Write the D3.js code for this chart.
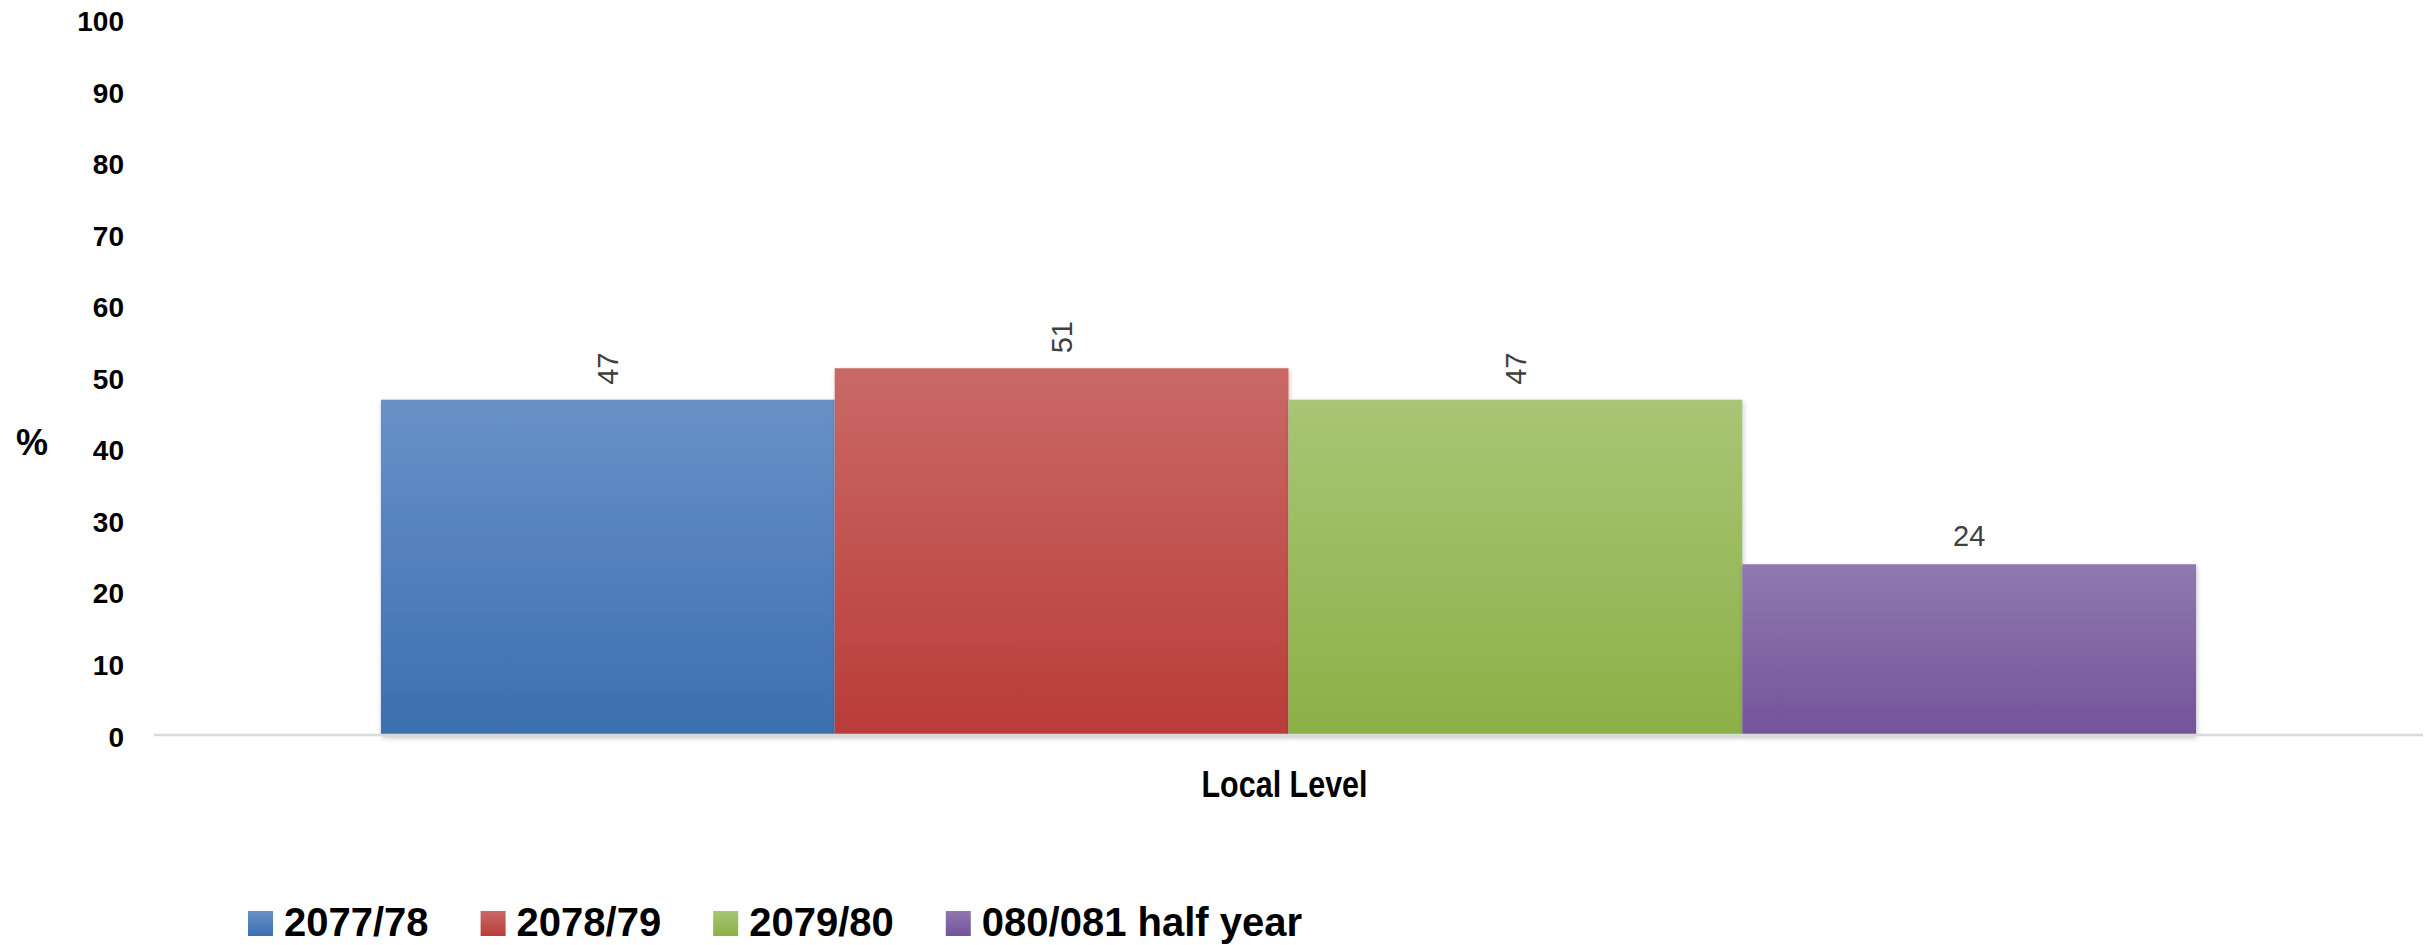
<!DOCTYPE html>
<html>
<head>
<meta charset="utf-8">
<script src="https://cdn.jsdelivr.net/npm/d3@7"></script>
<style>
  html, body { margin: 0; padding: 0; background: #fff; }
  svg { display: block; }
  text { font-family: "Liberation Sans", Arial, sans-serif; }
</style>
</head>
<body>
<script>
// ---- data ----
const categories = ["Local Level"];
const seriesNames = ["2077/78", "2078/79", "2079/80", "080/081 half year"];
const seriesValues = [47, 51.4, 47, 24];
const yTicks = [0, 10, 20, 30, 40, 50, 60, 70, 80, 90, 100];
const yAxisTitle = "%";

// ---- styles ----
const gradTop = ["#6891c7", "#c96966", "#a9c575", "#8f79af"];
const gradBottom = ["#3c6eb0", "#ba3c39", "#8cb047", "#73539a"];

const W = 2430, H = 945;
const svg = d3.select("body").append("svg").attr("width", W).attr("height", H);

const defs = svg.append("defs");
seriesNames.forEach((s, i) => {
  const g = defs.append("linearGradient").attr("id", "g" + i)
    .attr("x1", 0).attr("y1", 0).attr("x2", 0).attr("y2", 1);
  g.append("stop").attr("offset", "0%").attr("stop-color", gradTop[i]);
  g.append("stop").attr("offset", "100%").attr("stop-color", gradBottom[i]);
});
const f = defs.append("filter").attr("id", "shadow")
  .attr("x", "-5%").attr("y", "-5%").attr("width", "110%").attr("height", "110%");
f.append("feDropShadow").attr("dx", 1).attr("dy", 2).attr("stdDeviation", 2.5)
  .attr("flood-color", "#000").attr("flood-opacity", 0.22);

const left = 154, right = 2423, y0 = 736, y100 = 20.5;

const x0 = d3.scaleBand().domain(categories).range([left, right]).padding(0);
const x1 = d3.scaleBand().domain(seriesNames).range([0, x0.bandwidth()])
  .paddingInner(0).paddingOuter(0.5);
const y = d3.scaleLinear().domain([0, 100]).range([y0, y100]);

// y tick labels
const yAxis = d3.axisLeft(y).tickValues(yTicks).tickSize(0).tickPadding(0);
const ya = svg.append("g").attr("transform", "translate(124,0)").call(yAxis);
ya.select(".domain").remove();
ya.selectAll("text")
  .attr("font-family", "'Liberation Sans', Arial, sans-serif")
  .attr("font-size", 28).attr("font-weight", "bold").attr("fill", "#000")
  .attr("dy", "0.36em");

// y axis title
svg.append("text").attr("x", 32).attr("y", 442).attr("dy", "0.36em")
  .attr("text-anchor", "middle").attr("font-size", 36).attr("font-weight", "bold")
  .text(yAxisTitle);

// bars
const gCat = svg.append("g").selectAll("g").data(categories).join("g")
  .attr("transform", d => `translate(${x0(d)},0)`);

const barData = seriesNames.map((s, i) => ({ s, v: seriesValues[i], i }));

// x axis line
svg.append("line").attr("x1", left).attr("x2", right).attr("y1", 735).attr("y2", 735)
  .attr("stroke", "#d9d9d9").attr("stroke-width", 2.5);

gCat.selectAll("rect").data(barData).join("rect")
  .attr("x", d => x1(d.s))
  .attr("width", x1.bandwidth())
  .attr("y", d => y(d.v))
  .attr("height", d => y(0) - y(d.v))
  .attr("fill", d => "url(#g" + d.i + ")")
  .attr("filter", "url(#shadow)");

// data labels
const fmt = d3.format(".0f");
gCat.selectAll("text.lbl").data(barData).join("text")
  .attr("class", "lbl")
  .attr("font-size", 29).attr("fill", "#404040").attr("text-anchor", "middle")
  .attr("transform", d => {
    const cx = x1(d.s) + x1.bandwidth() / 2;
    if (d.v >= 40) return `translate(${cx},${y(d.v) - 31}) rotate(-90)`;
    return `translate(${cx},${y(d.v) - 18})`;
  })
  .attr("dy", d => d.v >= 40 ? "0.36em" : 0)
  .text(d => fmt(d.v));

// category label
svg.append("text").attr("x", x0(categories[0]) + x0.bandwidth() / 2 - 4).attr("y", 797)
  .attr("text-anchor", "middle").attr("font-size", 37).attr("font-weight", "bold")
  .attr("textLength", 166).attr("lengthAdjust", "spacingAndGlyphs")
  .text(categories[0]);

// legend
const leg = svg.append("g");
let lx = 248;
seriesNames.forEach((s, i) => {
  leg.append("rect").attr("x", lx).attr("y", 911).attr("width", 25).attr("height", 25)
    .attr("fill", "url(#g" + i + ")");
  const t = leg.append("text").attr("x", lx + 36).attr("y", 936)
    .attr("font-size", 40).attr("font-weight", "bold").attr("fill", "#000").text(s);
  lx += 36 + t.node().getComputedTextLength() + 52;
});
</script>
</body>
</html>
